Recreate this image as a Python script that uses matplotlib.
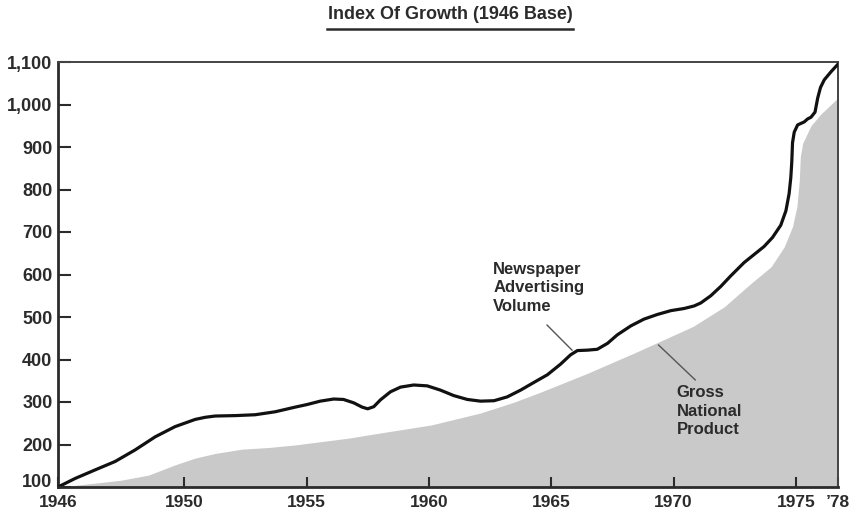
import numpy as np
import matplotlib
matplotlib.use("Agg")
import matplotlib.pyplot as plt
from matplotlib.lines import Line2D

plt.rcParams["font.family"] = ["Liberation Sans", "DejaVu Sans"]
plt.rcParams["font.weight"] = "bold"

ink = "#2b2b2b"

# newspaper advertising volume index (1946 = 100)
ad_years = [1946.0, 1946.54, 1947.17, 1947.81, 1948.44, 1949.08, 1949.71, 1950.45,
            1950.86, 1951.27, 1952.09, 1952.9, 1953.72, 1954.54, 1955.02, 1955.56,
            1956.11, 1956.51, 1956.93, 1957.27, 1957.5, 1957.75, 1958.02, 1958.43,
            1958.84, 1959.38, 1959.93, 1960.47, 1961.02, 1961.57, 1962.11, 1962.66,
            1963.2, 1963.75, 1964.29, 1964.84, 1965.38, 1965.79, 1966.07, 1966.48,
            1966.88, 1967.3, 1967.7, 1968.25, 1968.79, 1969.34, 1969.89, 1970.43,
            1970.84, 1971.11, 1971.52, 1971.93, 1972.34, 1972.88, 1973.29, 1973.7,
            1974.04, 1974.38, 1974.59, 1974.72, 1974.79, 1974.83, 1974.86, 1974.93,
            1975.12, 1975.59, 1975.83, 1976.07, 1976.36, 1976.55, 1976.75, 1977.02,
            1977.5, 1978.0]
ad_vals = [100, 120, 140, 160, 187, 218, 242, 259,
           264, 267, 268, 270, 277, 288, 294, 302,
           307, 306, 298, 288, 284, 289, 305, 324,
           335, 340, 338, 328, 315, 306, 302, 303,
           312, 328, 346, 364, 389, 411, 421, 422,
           424, 438, 458, 479, 495, 506, 515, 520,
           526, 533, 550, 572, 597, 628, 647, 666,
           687, 716, 750, 790, 828, 865, 910, 935,
           952, 959, 966, 970, 982, 1015, 1040, 1058,
           1077, 1095]

# gross national product index (1946 = 100)
gnp_years = [1946.0, 1946.3, 1947.17, 1948.0, 1948.87, 1949.71, 1950.45, 1951.27,
             1952.36, 1953.45, 1954.54, 1955.63, 1956.72, 1958.0, 1960.1, 1962.1,
             1963.5, 1964.6, 1966.5, 1968.5, 1970.8, 1972.07, 1973.16, 1973.98,
             1974.52, 1974.86, 1975.07, 1975.24, 1975.31, 1975.48, 1976.07, 1976.79,
             1977.5, 1978.0]
gnp_vals = [100, 102, 109, 116, 128, 152, 168, 179,
            189, 193, 199, 207, 215, 227, 246, 274,
            300, 324, 368, 418, 478, 524, 579, 618,
            665, 713, 760, 822, 877, 909, 950, 978,
            1000, 1016]

x_ticks = [1946, 1950, 1955, 1960, 1965, 1970, 1975, 1978]
x_labels = ["1946", "1950", "1955", "1960", "1965", "1970", "1975", "\u201978"]
y_ticks = [100, 200, 300, 400, 500, 600, 700, 800, 900, 1000, 1100]
y_labels = ["100", "200", "300", "400", "500", "600", "700", "800", "900", "1,000", "1,100"]

# the original time axis is not evenly spaced: stretched before 1950, squeezed after 1975
brk_years = np.array([1900, 1946, 1950, 1975, 1978, 2000])
brk_pos = np.array([-1449.0, 0.0, 126.0, 737.0, 779.0, 1087.0])


def fwd(x):
    return np.interp(x, brk_years, brk_pos)


def inv(p):
    return np.interp(p, brk_pos, brk_years)


fig = plt.figure(figsize=(8.63, 5.13), dpi=100)
ax = fig.add_axes([58 / 863, 26 / 513, 780 / 863, 425 / 513])
ax.set_xscale("function", functions=(fwd, inv))

ax.fill_between(gnp_years, 100, gnp_vals, color="#c9c9c9", lw=0, zorder=1)
ax.plot(ad_years, ad_vals, color="#111111", lw=2.3, solid_capstyle="round",
        solid_joinstyle="round", zorder=3)

ax.set_xlim(1946, 1978)
ax.set_ylim(100, 1100)
ax.set_xticks(x_ticks)
ax.set_xticklabels(x_labels)
ax.set_yticks(y_ticks)
ax.set_yticklabels(y_labels)
ax.tick_params(axis="y", direction="in", length=9, width=1.5, color=ink,
               labelsize=13, labelcolor=ink, pad=4)
ax.tick_params(axis="x", direction="in", length=7, width=1.5, color=ink,
               labelsize=12.5, labelcolor=ink, pad=6)
for lab in ax.get_xticklabels() + ax.get_yticklabels():
    lab.set_fontweight("bold")
# keep the bottom "100" clear of the "1946" below it
ax.get_yticklabels()[0].set_va("baseline")

for side in ["left", "bottom"]:
    ax.spines[side].set_linewidth(2.0)
    ax.spines[side].set_color(ink)
for side in ["top", "right"]:
    ax.spines[side].set_linewidth(1.4)
    ax.spines[side].set_color("#444444")
ax.spines["bottom"].set_zorder(5)

# series labels with leader lines
ax.text(0.558, 0.53, "Newspaper\nAdvertising\nVolume", transform=ax.transAxes,
        ha="left", va="top", fontsize=12, fontweight="bold", color=ink,
        linespacing=1.3)
ax.plot([0.627, 0.659], [0.381, 0.322], transform=ax.transAxes, color="#555555", lw=1.0)

ax.text(0.793, 0.24, "Gross\nNational\nProduct", transform=ax.transAxes,
        ha="left", va="top", fontsize=12, fontweight="bold", color=ink,
        linespacing=1.3, zorder=4)
ax.plot([0.77, 0.817], [0.334, 0.252], transform=ax.transAxes, color="#555555", lw=1.0,
        zorder=4)

fig.text(450 / 863, 1 - 15 / 513, "Index Of Growth (1946 Base)", ha="center", va="center",
         fontsize=13, fontweight="bold", color=ink)
fig.add_artist(Line2D([327 / 863, 573 / 863], [1 - 29 / 513, 1 - 29 / 513],
                      transform=fig.transFigure, color=ink, lw=1.8))

fig.savefig("out.png", dpi=100)
